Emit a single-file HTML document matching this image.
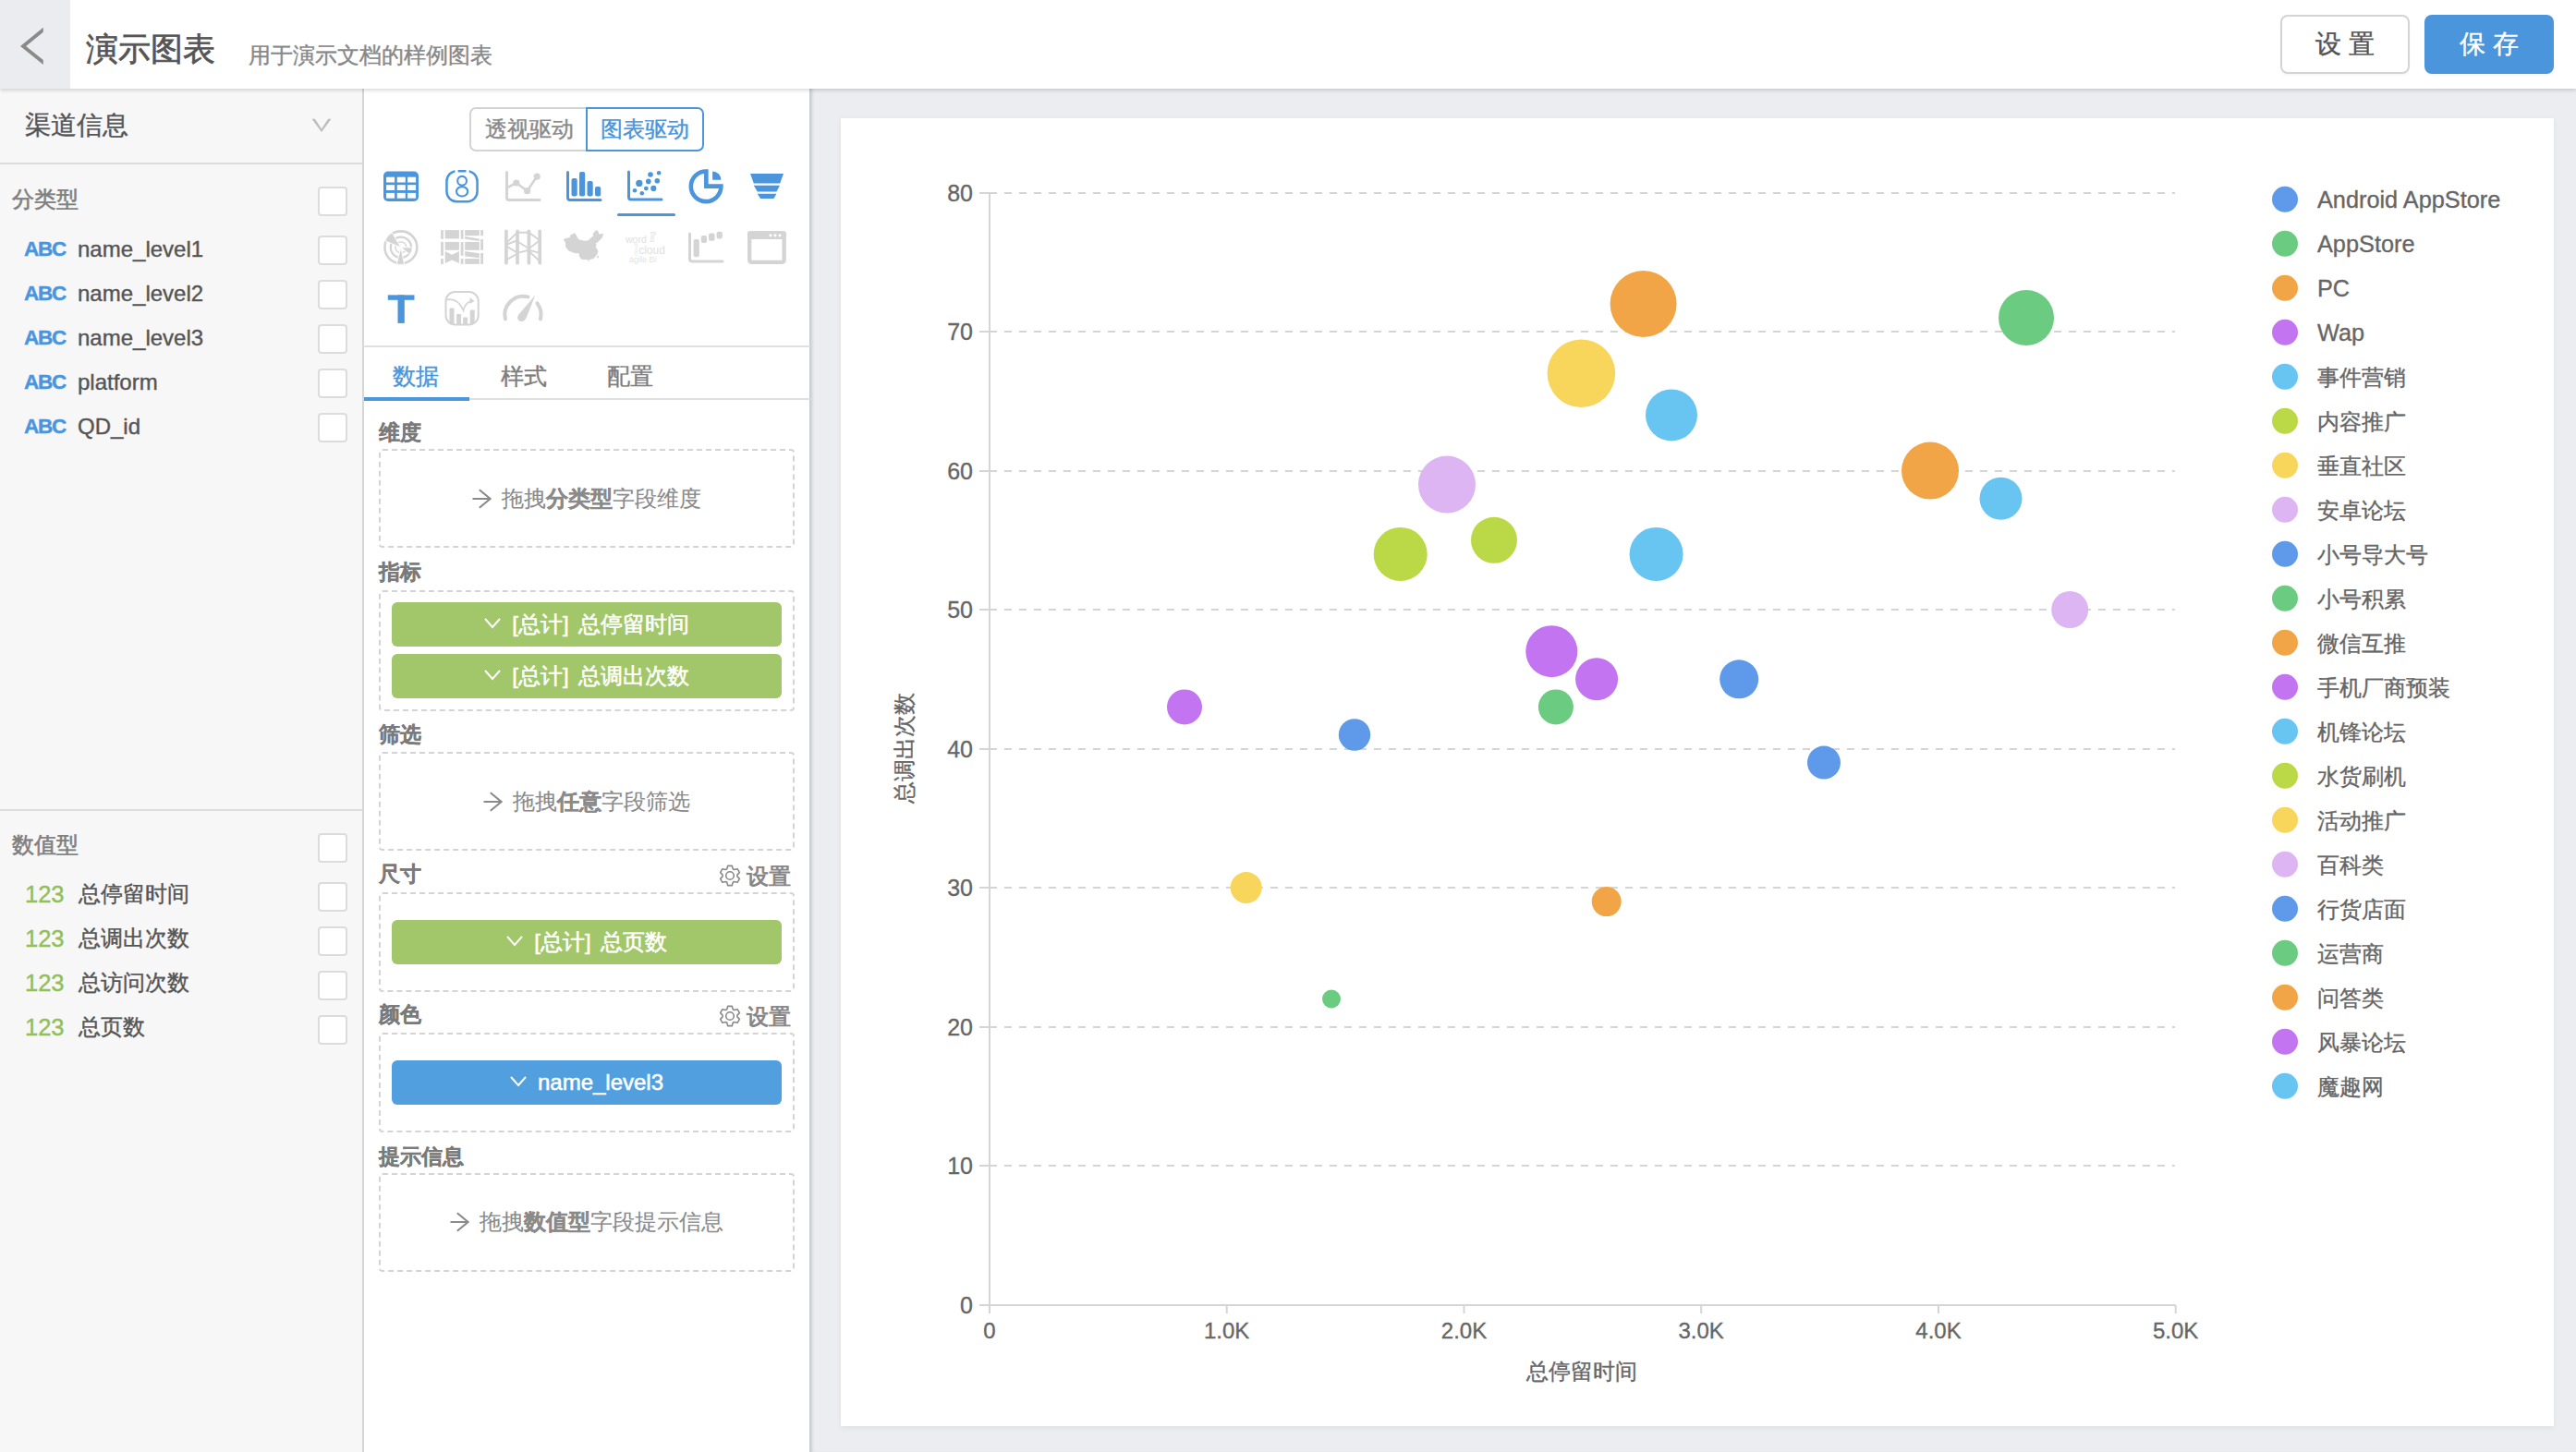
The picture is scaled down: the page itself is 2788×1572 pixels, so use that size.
<!DOCTYPE html>
<html><head><meta charset="utf-8">
<style>
*{margin:0;padding:0;box-sizing:border-box}
html,body{width:2788px;height:1572px;overflow:hidden}
body{background:#ebedf0;font-family:"Liberation Sans", sans-serif;position:relative;color:#555}
.a{position:absolute}
.t{white-space:nowrap;line-height:1.2;-webkit-text-stroke-width:0.4px}
svg text{font-family:"Liberation Sans", sans-serif}
.ch text{stroke:#666;stroke-width:0.35px}
.chk{width:31.5px;height:31.8px;border:2px solid #dcdcdc;border-radius:4px;background:#fff}
.pill{left:424px;width:422px;height:48px;border-radius:6px;color:#fff;font-size:24px;text-align:center;line-height:48px;word-spacing:3.5px;-webkit-text-stroke-width:0.55px}
b{font-weight:bold;-webkit-text-stroke-width:0.3px}
</style></head><body>
<div class="a" style="left:876px;top:96px;width:1912px;height:1476px;background:#ebedf0;box-shadow:inset 5px 0 4px -3px rgba(0,0,0,0.2)"></div>
<div class="a" style="left:910px;top:128px;width:1854px;height:1416px;background:#fff;box-shadow:0 2px 6px rgba(0,0,0,0.06)"></div>
<svg class="ch" width="2788" height="1572" style="position:absolute;left:0;top:0">
<line x1="1071" y1="1262" x2="2354" y2="1262" stroke="#d5d5d5" stroke-width="2" stroke-dasharray="8 8"/>
<line x1="1071" y1="1112" x2="2354" y2="1112" stroke="#d5d5d5" stroke-width="2" stroke-dasharray="8 8"/>
<line x1="1071" y1="961" x2="2354" y2="961" stroke="#d5d5d5" stroke-width="2" stroke-dasharray="8 8"/>
<line x1="1071" y1="811" x2="2354" y2="811" stroke="#d5d5d5" stroke-width="2" stroke-dasharray="8 8"/>
<line x1="1071" y1="660" x2="2354" y2="660" stroke="#d5d5d5" stroke-width="2" stroke-dasharray="8 8"/>
<line x1="1071" y1="510" x2="2354" y2="510" stroke="#d5d5d5" stroke-width="2" stroke-dasharray="8 8"/>
<line x1="1071" y1="359" x2="2354" y2="359" stroke="#d5d5d5" stroke-width="2" stroke-dasharray="8 8"/>
<line x1="1071" y1="209" x2="2354" y2="209" stroke="#d5d5d5" stroke-width="2" stroke-dasharray="8 8"/>
<line x1="1060" y1="1413" x2="1071" y2="1413" stroke="#d5d5d5" stroke-width="2"/>
<text x="1053" y="1421.5" text-anchor="end" font-size="25" fill="#666">0</text>
<line x1="1060" y1="1262" x2="1071" y2="1262" stroke="#d5d5d5" stroke-width="2"/>
<text x="1053" y="1270.5" text-anchor="end" font-size="25" fill="#666">10</text>
<line x1="1060" y1="1112" x2="1071" y2="1112" stroke="#d5d5d5" stroke-width="2"/>
<text x="1053" y="1120.5" text-anchor="end" font-size="25" fill="#666">20</text>
<line x1="1060" y1="961" x2="1071" y2="961" stroke="#d5d5d5" stroke-width="2"/>
<text x="1053" y="969.5" text-anchor="end" font-size="25" fill="#666">30</text>
<line x1="1060" y1="811" x2="1071" y2="811" stroke="#d5d5d5" stroke-width="2"/>
<text x="1053" y="819.5" text-anchor="end" font-size="25" fill="#666">40</text>
<line x1="1060" y1="660" x2="1071" y2="660" stroke="#d5d5d5" stroke-width="2"/>
<text x="1053" y="668.5" text-anchor="end" font-size="25" fill="#666">50</text>
<line x1="1060" y1="510" x2="1071" y2="510" stroke="#d5d5d5" stroke-width="2"/>
<text x="1053" y="518.5" text-anchor="end" font-size="25" fill="#666">60</text>
<line x1="1060" y1="359" x2="1071" y2="359" stroke="#d5d5d5" stroke-width="2"/>
<text x="1053" y="367.5" text-anchor="end" font-size="25" fill="#666">70</text>
<line x1="1060" y1="209" x2="1071" y2="209" stroke="#d5d5d5" stroke-width="2"/>
<text x="1053" y="217.5" text-anchor="end" font-size="25" fill="#666">80</text>
<line x1="1071" y1="208" x2="1071" y2="1422" stroke="#d5d5d5" stroke-width="2"/>
<line x1="1060" y1="1413" x2="2354.7" y2="1413" stroke="#d5d5d5" stroke-width="2"/>
<line x1="1071.0" y1="1413" x2="1071.0" y2="1422" stroke="#d5d5d5" stroke-width="2"/>
<text x="1071.0" y="1449" text-anchor="middle" font-size="24" fill="#666">0</text>
<line x1="1327.7" y1="1413" x2="1327.7" y2="1422" stroke="#d5d5d5" stroke-width="2"/>
<text x="1327.7" y="1449" text-anchor="middle" font-size="24" fill="#666">1.0K</text>
<line x1="1584.5" y1="1413" x2="1584.5" y2="1422" stroke="#d5d5d5" stroke-width="2"/>
<text x="1584.5" y="1449" text-anchor="middle" font-size="24" fill="#666">2.0K</text>
<line x1="1841.2" y1="1413" x2="1841.2" y2="1422" stroke="#d5d5d5" stroke-width="2"/>
<text x="1841.2" y="1449" text-anchor="middle" font-size="24" fill="#666">3.0K</text>
<line x1="2098.0" y1="1413" x2="2098.0" y2="1422" stroke="#d5d5d5" stroke-width="2"/>
<text x="2098.0" y="1449" text-anchor="middle" font-size="24" fill="#666">4.0K</text>
<line x1="2354.7" y1="1413" x2="2354.7" y2="1422" stroke="#d5d5d5" stroke-width="2"/>
<text x="2354.7" y="1449" text-anchor="middle" font-size="24" fill="#666">5.0K</text>
<text x="1712" y="1492.5" text-anchor="middle" font-size="24" fill="#666">总停留时间</text>
<text transform="translate(987,810) rotate(-90)" text-anchor="middle" font-size="24" fill="#666">总调出次数</text>
<circle cx="1778.6" cy="329.0" r="36" fill="#f2a546"/>
<circle cx="2193" cy="344.0" r="30" fill="#6bcb81"/>
<circle cx="1711.4" cy="404.2" r="36.8" fill="#f8d65c"/>
<circle cx="1809" cy="449.4" r="28" fill="#68c5f1"/>
<circle cx="1566" cy="524.6" r="31" fill="#dcb5f2"/>
<circle cx="2089" cy="509.6" r="31" fill="#f2a546"/>
<circle cx="2165.5" cy="539.7" r="23" fill="#68c5f1"/>
<circle cx="1515.7" cy="599.9" r="29" fill="#bbd946"/>
<circle cx="1617" cy="584.8" r="25" fill="#bbd946"/>
<circle cx="1792.6" cy="599.9" r="29" fill="#68c5f1"/>
<circle cx="2240.2" cy="660.1" r="20" fill="#dcb5f2"/>
<circle cx="1679.3" cy="705.2" r="28" fill="#c274f1"/>
<circle cx="1728.1" cy="735.3" r="23" fill="#c274f1"/>
<circle cx="1683.9" cy="765.4" r="19" fill="#6bcb81"/>
<circle cx="1882.2" cy="735.3" r="21" fill="#5e9ae9"/>
<circle cx="1282" cy="765.4" r="19" fill="#c274f1"/>
<circle cx="1466" cy="795.5" r="17.2" fill="#5e9ae9"/>
<circle cx="1974" cy="825.6" r="18" fill="#5e9ae9"/>
<circle cx="1348.7" cy="961.1" r="17" fill="#f8d65c"/>
<circle cx="1738.7" cy="976.1" r="16" fill="#f2a546"/>
<circle cx="1441" cy="1081.5" r="10" fill="#6bcb81"/>
<circle cx="2473" cy="215.8" r="14" fill="#5e9ae9"/>
<text x="2508" y="224.8" font-size="25.3" fill="#666">Android AppStore</text>
<circle cx="2473" cy="263.8" r="14" fill="#6bcb81"/>
<text x="2508" y="272.8" font-size="25.3" fill="#666">AppStore</text>
<circle cx="2473" cy="311.8" r="14" fill="#f2a546"/>
<text x="2508" y="320.8" font-size="25.3" fill="#666">PC</text>
<circle cx="2473" cy="359.8" r="14" fill="#c274f1"/>
<text x="2508" y="368.8" font-size="25.3" fill="#666">Wap</text>
<circle cx="2473" cy="407.8" r="14" fill="#68c5f1"/>
<text x="2508" y="416.8" font-size="24" fill="#666">事件营销</text>
<circle cx="2473" cy="455.8" r="14" fill="#bbd946"/>
<text x="2508" y="464.8" font-size="24" fill="#666">内容推广</text>
<circle cx="2473" cy="503.8" r="14" fill="#f8d65c"/>
<text x="2508" y="512.8" font-size="24" fill="#666">垂直社区</text>
<circle cx="2473" cy="551.8" r="14" fill="#dcb5f2"/>
<text x="2508" y="560.8" font-size="24" fill="#666">安卓论坛</text>
<circle cx="2473" cy="599.8" r="14" fill="#5e9ae9"/>
<text x="2508" y="608.8" font-size="24" fill="#666">小号导大号</text>
<circle cx="2473" cy="647.8" r="14" fill="#6bcb81"/>
<text x="2508" y="656.8" font-size="24" fill="#666">小号积累</text>
<circle cx="2473" cy="695.8" r="14" fill="#f2a546"/>
<text x="2508" y="704.8" font-size="24" fill="#666">微信互推</text>
<circle cx="2473" cy="743.8" r="14" fill="#c274f1"/>
<text x="2508" y="752.8" font-size="24" fill="#666">手机厂商预装</text>
<circle cx="2473" cy="791.8" r="14" fill="#68c5f1"/>
<text x="2508" y="800.8" font-size="24" fill="#666">机锋论坛</text>
<circle cx="2473" cy="839.8" r="14" fill="#bbd946"/>
<text x="2508" y="848.8" font-size="24" fill="#666">水货刷机</text>
<circle cx="2473" cy="887.8" r="14" fill="#f8d65c"/>
<text x="2508" y="896.8" font-size="24" fill="#666">活动推广</text>
<circle cx="2473" cy="935.8" r="14" fill="#dcb5f2"/>
<text x="2508" y="944.8" font-size="24" fill="#666">百科类</text>
<circle cx="2473" cy="983.8" r="14" fill="#5e9ae9"/>
<text x="2508" y="992.8" font-size="24" fill="#666">行货店面</text>
<circle cx="2473" cy="1031.8" r="14" fill="#6bcb81"/>
<text x="2508" y="1040.8" font-size="24" fill="#666">运营商</text>
<circle cx="2473" cy="1079.8" r="14" fill="#f2a546"/>
<text x="2508" y="1088.8" font-size="24" fill="#666">问答类</text>
<circle cx="2473" cy="1127.8" r="14" fill="#c274f1"/>
<text x="2508" y="1136.8" font-size="24" fill="#666">风暴论坛</text>
<circle cx="2473" cy="1175.8" r="14" fill="#68c5f1"/>
<text x="2508" y="1184.8" font-size="24" fill="#666">魔趣网</text>
</svg>
<div class="a" style="left:0;top:96px;width:393px;height:1476px;background:#f7f7f7"></div>
<div class="a t" style="left:27px;top:118.5px;font-size:27.5px;color:#555">渠道信息</div>
<svg class="a" style="left:330px;top:120px" width="40" height="30"><polygon points="7.5,8.8 10.9,8.8 18,19.4 25.1,8.8 28.5,8.8 18,23" fill="#bdbdbd"/></svg>
<div class="a" style="left:0;top:176px;width:392px;height:2px;background:#dcdcdc"></div>
<div class="a t" style="left:13px;top:202px;font-size:23.5px;color:#808080;-webkit-text-stroke-width:0.6px">分类型</div>
<div class="a chk" style="left:344px;top:202px"></div>
<div class="a t" style="left:26px;top:255.5px;font-size:22.5px;letter-spacing:-1.2px;font-weight:bold;color:#4a95dc">ABC</div>
<div class="a t" style="left:84px;top:256px;font-size:24px;color:#555">name_level1</div>
<div class="a chk" style="left:344px;top:255px"></div>
<div class="a t" style="left:26px;top:303.5px;font-size:22.5px;letter-spacing:-1.2px;font-weight:bold;color:#4a95dc">ABC</div>
<div class="a t" style="left:84px;top:304px;font-size:24px;color:#555">name_level2</div>
<div class="a chk" style="left:344px;top:303px"></div>
<div class="a t" style="left:26px;top:351.5px;font-size:22.5px;letter-spacing:-1.2px;font-weight:bold;color:#4a95dc">ABC</div>
<div class="a t" style="left:84px;top:352px;font-size:24px;color:#555">name_level3</div>
<div class="a chk" style="left:344px;top:351px"></div>
<div class="a t" style="left:26px;top:399.5px;font-size:22.5px;letter-spacing:-1.2px;font-weight:bold;color:#4a95dc">ABC</div>
<div class="a t" style="left:84px;top:400px;font-size:24px;color:#555">platform</div>
<div class="a chk" style="left:344px;top:399px"></div>
<div class="a t" style="left:26px;top:447.5px;font-size:22.5px;letter-spacing:-1.2px;font-weight:bold;color:#4a95dc">ABC</div>
<div class="a t" style="left:84px;top:448px;font-size:24px;color:#555">QD_id</div>
<div class="a chk" style="left:344px;top:447px"></div>
<div class="a" style="left:0;top:876px;width:392px;height:2px;background:#dcdcdc"></div>
<div class="a t" style="left:13px;top:901px;font-size:23.5px;color:#808080;-webkit-text-stroke-width:0.6px">数值型</div>
<div class="a chk" style="left:344px;top:902px"></div>
<div class="a t" style="left:27px;top:953px;font-size:25.5px;color:#92bf58">123</div>
<div class="a t" style="left:85px;top:954px;font-size:24px;color:#555">总停留时间</div>
<div class="a chk" style="left:344px;top:955px"></div>
<div class="a t" style="left:27px;top:1001px;font-size:25.5px;color:#92bf58">123</div>
<div class="a t" style="left:85px;top:1002px;font-size:24px;color:#555">总调出次数</div>
<div class="a chk" style="left:344px;top:1003px"></div>
<div class="a t" style="left:27px;top:1049px;font-size:25.5px;color:#92bf58">123</div>
<div class="a t" style="left:85px;top:1050px;font-size:24px;color:#555">总访问次数</div>
<div class="a chk" style="left:344px;top:1051px"></div>
<div class="a t" style="left:27px;top:1097px;font-size:25.5px;color:#92bf58">123</div>
<div class="a t" style="left:85px;top:1098px;font-size:24px;color:#555">总页数</div>
<div class="a chk" style="left:344px;top:1099px"></div>
<div class="a" style="left:392px;top:96px;width:484px;height:1476px;background:#fff;border-left:2px solid #d6d6d6"></div>
<div class="a t" style="left:508px;top:116px;width:128px;height:48px;border:2px solid #d4d4d4;border-right:none;border-radius:7px 0 0 7px;font-size:24px;color:#8a8a8a;text-align:center;line-height:44px">透视驱动</div>
<div class="a t" style="left:634px;top:116px;width:128px;height:48px;border:2px solid #4a95dc;border-radius:0 7px 7px 0;font-size:24px;color:#4a95dc;text-align:center;line-height:44px">图表驱动</div>
<svg class="a" style="left:393px;top:170px" width="484" height="200">
<g transform="translate(22,15.599999999999994)"><rect x="0" y="0" width="38" height="32.4" rx="5" fill="#4a95dc"/><rect x="3.1" y="6.1" width="9" height="5.8" fill="#fff"/><rect x="3.1" y="14.6" width="9" height="5.8" fill="#fff"/><rect x="3.1" y="23.3" width="9" height="5.8" fill="#fff"/><rect x="14.8" y="6.1" width="9" height="5.8" fill="#fff"/><rect x="14.8" y="14.6" width="9" height="5.8" fill="#fff"/><rect x="14.8" y="23.3" width="9" height="5.8" fill="#fff"/><rect x="26.1" y="6.1" width="9" height="5.8" fill="#fff"/><rect x="26.1" y="14.6" width="9" height="5.8" fill="#fff"/><rect x="26.1" y="23.3" width="9" height="5.8" fill="#fff"/></g>
<g transform="translate(89.19999999999999,14)"><rect x="1.25" y="1.25" width="33.1" height="33" rx="11" fill="none" stroke="#4a95dc" stroke-width="2.5"/><rect x="10.2" y="-0.5" width="3.2" height="3.5" fill="#fff"/><rect x="22.3" y="-0.5" width="3.2" height="3.5" fill="#fff"/><ellipse cx="17.9" cy="11.8" rx="4.9" ry="4.9" fill="none" stroke="#4a95dc" stroke-width="2.1"/><ellipse cx="17.9" cy="23.3" rx="6.1" ry="5.2" fill="none" stroke="#4a95dc" stroke-width="2.1"/></g>
<g transform="translate(154,15.599999999999994)"><path d="M1.5 1V28.5Q1.5 31 4 31H37" fill="none" stroke="#d4d4d4" stroke-width="3" stroke-linecap="round"/><polyline points="2.5,17.3 11.8,12.4 23.6,21.1 34.2,5.5" fill="none" stroke="#d4d4d4" stroke-width="2.6"/><circle cx="11.8" cy="12.4" r="3.6" fill="#d4d4d4"/><circle cx="23.6" cy="21.1" r="3.6" fill="#d4d4d4"/><circle cx="34.2" cy="5.5" r="3.6" fill="#d4d4d4"/></g>
<g transform="translate(220,15.599999999999994)"><path d="M1.5 1V28.5Q1.5 31 4 31H37" fill="none" stroke="#4a95dc" stroke-width="3" stroke-linecap="round"/><rect x="5.5" y="7.5" width="6.2" height="19.5" rx="2" fill="#4a95dc"/><rect x="14" y="0.5" width="6.2" height="26.5" rx="2" fill="#4a95dc"/><rect x="22.5" y="10.5" width="6.2" height="16.5" rx="2" fill="#4a95dc"/><rect x="31" y="16.5" width="6.2" height="10.5" rx="2" fill="#4a95dc"/></g>
<g transform="translate(286,15)"><path d="M1.5 1V28.5Q1.5 31 4 31H37" fill="none" stroke="#4a95dc" stroke-width="3" stroke-linecap="round"/><circle cx="12.8" cy="13.4" r="3.6" fill="#4a95dc"/><circle cx="25" cy="4" r="2.8" fill="#4a95dc"/><circle cx="34.1" cy="2.3" r="2.3" fill="#4a95dc"/><circle cx="22.8" cy="11.4" r="2.8" fill="#4a95dc"/><circle cx="32.3" cy="10.7" r="2.8" fill="#4a95dc"/><circle cx="8" cy="21.2" r="2.3" fill="#4a95dc"/><circle cx="20.3" cy="19.1" r="2.4" fill="#4a95dc"/><circle cx="28.3" cy="18.9" r="3.1" fill="#4a95dc"/><circle cx="15.8" cy="24.2" r="2.3" fill="#4a95dc"/></g>
<g transform="translate(352.5,13)"><path d="M18.85 2.5A16.3 16.3 0 1 0 34.9 18.65H18.85Z" fill="none" stroke="#4a95dc" stroke-width="4.6" stroke-linejoin="miter"/><path d="M25.6 11.8V2.4A9.4 9.4 0 0 1 35 11.8Z" fill="#4a95dc"/></g>
<g transform="translate(419,18)"><polygon points="0,0 36,0 32.2,10.6 3.8,10.6" fill="#4a95dc"/><polygon points="3.8,12.7 32,12.7 28.4,19.6 7.7,19.6" fill="#4a95dc"/><polygon points="7.7,21.8 28.4,21.8 25.4,27 11.1,27" fill="#4a95dc"/></g>
<g transform="translate(22,79)"><circle cx="18.9" cy="18.8" r="17.45" fill="none" stroke="#d4d4d4" stroke-width="2.6"/><circle cx="18.9" cy="18.8" r="11.2" fill="none" stroke="#d4d4d4" stroke-width="2.2"/><circle cx="18.9" cy="18.8" r="6" fill="none" stroke="#d4d4d4" stroke-width="1.3"/><path d="M18.9 18.8L1.6 11.8A18.7 18.7 0 0 1 9.2 2.8Z" fill="#d4d4d4" stroke="#fff" stroke-width="0.9"/><path d="M18.9 18.8H31.3A12.4 12.4 0 0 1 28.6 26.6Z" fill="#d4d4d4" stroke="#fff" stroke-width="0.9"/><path d="M18.9 18.8L14.2 37A18.7 18.7 0 0 0 22.6 37.2Z" fill="#d4d4d4" stroke="#fff" stroke-width="0.9"/></g>
<g transform="translate(84,79)"><rect x="0.1" y="0.1" width="2.8" height="9.6" fill="#d4d4d4"/><rect x="0.1" y="12.9" width="2.8" height="14.9" fill="#d4d4d4"/><rect x="0.1" y="31.1" width="2.8" height="5.8" fill="#d4d4d4"/><rect x="21.7" y="0.1" width="2.8" height="9.6" fill="#d4d4d4"/><rect x="21.7" y="12.9" width="2.8" height="14.9" fill="#d4d4d4"/><rect x="21.7" y="31.1" width="2.8" height="5.8" fill="#d4d4d4"/><rect x="43.2" y="0.1" width="2.8" height="6.1" fill="#d4d4d4"/><rect x="43.2" y="9.9" width="2.8" height="11.9" fill="#d4d4d4"/><rect x="43.2" y="25" width="2.8" height="11.9" fill="#d4d4d4"/><rect x="4.7" y="0.1" width="15.2" height="9.3" fill="#d4d4d4"/><rect x="4.7" y="12.9" width="15.2" height="8.9" fill="#d4d4d4"/><polygon points="4.7,23 12.3,26.7 19.9,23 19.9,36 12.3,32.6 4.7,36" fill="#d4d4d4"/><rect x="26.2" y="0.1" width="15.6" height="6.1" fill="#d4d4d4"/><polygon points="26.2,7.1 41.8,9.6 41.8,12 26.2,9.7" fill="#d4d4d4"/><rect x="26.2" y="12.9" width="15.6" height="8.9" fill="#d4d4d4"/><polygon points="26.2,23 41.8,25.3 41.8,30.3 26.2,28.4" fill="#d4d4d4"/><rect x="26.2" y="31.1" width="15.6" height="5.8" fill="#d4d4d4"/></g>
<g transform="translate(153,78)"><line x1="1.9" y1="2.3" x2="1.9" y2="36.7" stroke="#d4d4d4" stroke-width="3.7" stroke-linecap="round"/><line x1="14" y1="2.3" x2="14" y2="36.7" stroke="#d4d4d4" stroke-width="3.7" stroke-linecap="round"/><line x1="26.4" y1="2.3" x2="26.4" y2="36.7" stroke="#d4d4d4" stroke-width="3.7" stroke-linecap="round"/><line x1="38.2" y1="2.3" x2="38.2" y2="36.7" stroke="#d4d4d4" stroke-width="3.7" stroke-linecap="round"/><path d="M1.9 15.1L14 3.7H26.4L38.2 12.3M1.9 17L14 12.1M14 13.2L26.4 21.2L38.2 12.3M1.9 18.4L14 25.8L26.4 22.8L38.2 25.8M1.9 33.3L14 26.7M26.4 23.9L38.2 34.7" fill="none" stroke="#d4d4d4" stroke-width="1.9"/></g>
<g transform="translate(217,78.69999999999999)"><path d="M0.7 9.8L6.8 8.4L7.2 6.1L9.1 4.7L12.1 3.5L13.7 6.1L15.1 8.8L16.9 10.7L22.6 12.1L26.7 11.6L30 8.4L32.4 6.5L31.4 5.4L33.3 2.3L35.2 0.2L37.5 1.9L38.4 4.7L43.3 4.2L41.7 8.8L37 13.5L34.6 14.9L35.6 16.3L34.6 18.6L36.5 21.4L37.5 23.8L35.6 27.5L32.4 31.2L27.7 32.6L26.8 34.5L25.9 32.6L19.3 32.1L17 28.9L16.5 25.6L12.3 25.6L9.1 24.2L5.4 22.8L2.1 18.6L1.9 13.9L0 11.2Z" fill="#d4d4d4"/><ellipse cx="37" cy="29.3" rx="0.9" ry="1.6" fill="#d4d4d4"/></g>
<g transform="translate(284,80)"><text x="0" y="12.8" font-size="10.5" fill="#e0e0e0">word</text><text x="14.2" y="24.9" font-size="12" fill="#e0e0e0">cloud</text><text x="3.9" y="34.2" font-size="9" fill="#e3e3e3">agile Bi</text><text transform="translate(31,11.9) rotate(-90)" font-size="8" fill="#e0e0e0">tag</text><text transform="translate(12.5,26.7) rotate(-90)" font-size="5.5" fill="#e6e6e6">cloud</text></g>
<g transform="translate(352,82)"><path d="M1.5 1V28Q1.5 31 4.5 31H37" fill="none" stroke="#d4d4d4" stroke-width="3" stroke-linecap="round"/><rect x="5.6" y="7" width="6.2" height="19.3" rx="2" fill="#d4d4d4"/><rect x="13.8" y="3" width="6.2" height="8" rx="2" fill="#d4d4d4"/><rect x="22" y="0.5" width="6.6" height="8.2" rx="2" fill="#d4d4d4"/><rect x="30.6" y="-1.2" width="6.3" height="7.7" rx="2" fill="#d4d4d4"/></g>
<g transform="translate(416,80.30000000000001)"><rect x="2.2" y="2.2" width="37.4" height="31.4" rx="2" fill="none" stroke="#d4d4d4" stroke-width="4.3"/><rect x="0" y="0" width="41.8" height="8.6" rx="2" fill="#d4d4d4"/><circle cx="25" cy="4.5" r="1.6" fill="#fff"/><circle cx="30" cy="4.5" r="1.6" fill="#fff"/><circle cx="35" cy="4.5" r="1.6" fill="#fff"/></g>
<g transform="translate(26.80000000000001,149.39999999999998)"><rect x="0" y="0" width="28.7" height="5.4" fill="#4a95dc"/><rect x="10.7" y="0" width="7.3" height="30.5" fill="#4a95dc"/></g>
<g transform="translate(88.5,145)"><rect x="1" y="1" width="35.2" height="35.4" rx="10" fill="none" stroke="#d4d4d4" stroke-width="2"/><rect x="5" y="18.5" width="5" height="17.5" rx="1" fill="#d4d4d4"/><rect x="12.6" y="25" width="5" height="11" rx="1" fill="#d4d4d4"/><rect x="19.6" y="28.5" width="5" height="7.5" rx="1" fill="#d4d4d4"/><rect x="27.2" y="20.5" width="5" height="15.5" rx="1" fill="#d4d4d4"/><path d="M2 9.5Q14 7 20 21Q22 13 28 11" fill="none" stroke="#d4d4d4" stroke-width="1.8"/><polygon points="27,7 32,11 27,14" fill="#d4d4d4"/></g>
<g transform="translate(151.39999999999998,149.39999999999998)"><path d="M2.5 26A20 20 0 0 1 27 2" fill="none" stroke="#d4d4d4" stroke-width="4" stroke-linecap="round"/><path d="M37 9A20 20 0 0 1 40.5 26" fill="none" stroke="#d4d4d4" stroke-width="4" stroke-linecap="round"/><path d="M35 0L25 25Q22 30 18 28Q14 26 17 21Z" fill="#d4d4d4"/></g>
</svg>
<div class="a" style="left:668px;top:231px;width:63px;height:3px;border-radius:2px;background:#4a95dc"></div>
<div class="a" style="left:393px;top:374px;width:484px;height:2px;background:#e0e0e0"></div>
<div class="a t" style="left:425px;top:392px;font-size:25px;color:#4a95dc">数据</div>
<div class="a t" style="left:542px;top:392px;font-size:25px;color:#7d7d7d">样式</div>
<div class="a t" style="left:657px;top:392px;font-size:25px;color:#7d7d7d">配置</div>
<div class="a" style="left:393px;top:431px;width:484px;height:2px;background:#e0e0e0"></div>
<div class="a" style="left:394px;top:430px;width:114px;height:4px;background:#4a95dc"></div>
<div class="a t" style="left:410px;top:454.5px;font-size:22.5px;font-weight:bold;color:#7a7a7a;-webkit-text-stroke-width:0.25px">维度</div>
<div class="a" style="left:410px;top:486px;width:450px;height:107px;border:2px dashed #d4d4d4;border-radius:4px"></div>
<div class="a t" style="left:410px;width:450px;top:525.5px;text-align:center;font-size:24px;color:#8a8a8a;-webkit-text-stroke-width:0.1px"><svg width="22" height="20" style="vertical-align:-2px;margin-right:10px;overflow:visible"><path d="M0.5 10H20M7.8 0.3L19.6 10L7.8 19.7" fill="none" stroke="#8a8a8a" stroke-width="2.1"/></svg>拖拽<b>分类型</b>字段维度</div>
<div class="a t" style="left:410px;top:605.5px;font-size:22.5px;font-weight:bold;color:#7a7a7a;-webkit-text-stroke-width:0.25px">指标</div>
<div class="a" style="left:410px;top:639px;width:450px;height:131px;border:2px dashed #d4d4d4;border-radius:4px"></div>
<div class="a t pill" style="top:652px;background:#a2c76b"><svg width="18" height="12" style="vertical-align:3px;margin-right:12px"><polyline points="1,1 9,10 17,1" fill="none" stroke="#fff" stroke-width="2"/></svg>[总计] 总停留时间</div>
<div class="a t pill" style="top:708px;background:#a2c76b"><svg width="18" height="12" style="vertical-align:3px;margin-right:12px"><polyline points="1,1 9,10 17,1" fill="none" stroke="#fff" stroke-width="2"/></svg>[总计] 总调出次数</div>
<div class="a t" style="left:410px;top:781.5px;font-size:22.5px;font-weight:bold;color:#7a7a7a;-webkit-text-stroke-width:0.25px">筛选</div>
<div class="a" style="left:410px;top:814px;width:450px;height:107px;border:2px dashed #d4d4d4;border-radius:4px"></div>
<div class="a t" style="left:410px;width:450px;top:853.5px;text-align:center;font-size:24px;color:#8a8a8a;-webkit-text-stroke-width:0.1px"><svg width="22" height="20" style="vertical-align:-2px;margin-right:10px;overflow:visible"><path d="M0.5 10H20M7.8 0.3L19.6 10L7.8 19.7" fill="none" stroke="#8a8a8a" stroke-width="2.1"/></svg>拖拽<b>任意</b>字段筛选</div>
<div class="a t" style="left:410px;top:932.5px;font-size:22.5px;font-weight:bold;color:#7a7a7a;-webkit-text-stroke-width:0.25px">尺寸</div><div class="a" style="left:778px;top:936px;width:24px;height:24px"><svg width="24" height="24" viewBox="0 0 24 24"><path d="M8.75 4.69L9.73 1.34L14.27 1.34L15.25 4.69L16.70 5.53L20.10 4.71L22.37 8.63L19.96 11.16L19.96 12.84L22.37 15.37L20.10 19.29L16.70 18.47L15.25 19.31L14.27 22.66L9.73 22.66L8.75 19.31L7.30 18.47L3.90 19.29L1.63 15.37L4.04 12.84L4.04 11.16L1.63 8.63L3.90 4.71L7.30 5.53Z" fill="none" stroke="#8a8a8a" stroke-width="1.6" stroke-linejoin="round"/><circle cx="12" cy="12" r="4.3" fill="none" stroke="#8a8a8a" stroke-width="1.6"/></svg></div><div class="a t" style="left:808px;top:934.5px;font-size:23.5px;color:#858585;-webkit-text-stroke-width:0.8px">设置</div>
<div class="a" style="left:410px;top:966px;width:450px;height:108px;border:2px dashed #d4d4d4;border-radius:4px"></div>
<div class="a t pill" style="top:996px;background:#a2c76b"><svg width="18" height="12" style="vertical-align:3px;margin-right:12px"><polyline points="1,1 9,10 17,1" fill="none" stroke="#fff" stroke-width="2"/></svg>[总计] 总页数</div>
<div class="a t" style="left:410px;top:1084.5px;font-size:22.5px;font-weight:bold;color:#7a7a7a;-webkit-text-stroke-width:0.25px">颜色</div><div class="a" style="left:778px;top:1088px;width:24px;height:24px"><svg width="24" height="24" viewBox="0 0 24 24"><path d="M8.75 4.69L9.73 1.34L14.27 1.34L15.25 4.69L16.70 5.53L20.10 4.71L22.37 8.63L19.96 11.16L19.96 12.84L22.37 15.37L20.10 19.29L16.70 18.47L15.25 19.31L14.27 22.66L9.73 22.66L8.75 19.31L7.30 18.47L3.90 19.29L1.63 15.37L4.04 12.84L4.04 11.16L1.63 8.63L3.90 4.71L7.30 5.53Z" fill="none" stroke="#8a8a8a" stroke-width="1.6" stroke-linejoin="round"/><circle cx="12" cy="12" r="4.3" fill="none" stroke="#8a8a8a" stroke-width="1.6"/></svg></div><div class="a t" style="left:808px;top:1086.5px;font-size:23.5px;color:#858585;-webkit-text-stroke-width:0.8px">设置</div>
<div class="a" style="left:410px;top:1118px;width:450px;height:108px;border:2px dashed #d4d4d4;border-radius:4px"></div>
<div class="a t pill" style="top:1148px;background:#519fdf"><svg width="18" height="12" style="vertical-align:3px;margin-right:12px"><polyline points="1,1 9,10 17,1" fill="none" stroke="#fff" stroke-width="2"/></svg>name_level3</div>
<div class="a t" style="left:410px;top:1238.5px;font-size:22.5px;font-weight:bold;color:#7a7a7a;-webkit-text-stroke-width:0.25px">提示信息</div>
<div class="a" style="left:410px;top:1270px;width:450px;height:107px;border:2px dashed #d4d4d4;border-radius:4px"></div>
<div class="a t" style="left:410px;width:450px;top:1308.5px;text-align:center;font-size:24px;color:#8a8a8a;-webkit-text-stroke-width:0.1px"><svg width="22" height="20" style="vertical-align:-2px;margin-right:10px;overflow:visible"><path d="M0.5 10H20M7.8 0.3L19.6 10L7.8 19.7" fill="none" stroke="#8a8a8a" stroke-width="2.1"/></svg>拖拽<b>数值型</b>字段提示信息</div>
<div class="a" style="left:0;top:0;width:2788px;height:96px;background:#fff;box-shadow:0 2px 4px rgba(0,0,0,0.15)"></div>
<div class="a" style="left:0;top:0;width:76px;height:96px;background:#ebecf0"></div>
<svg class="a" style="left:0;top:10px" width="76" height="80"><polygon points="46.8,19.8 46.8,24.8 28.1,40 46.8,55.1 46.8,60.1 22,40" fill="#8a8a8a"/></svg>
<div class="a t" style="left:93px;top:31.5px;font-size:35px;-webkit-text-stroke-width:0.7px;color:#555">演示图表</div>
<div class="a t" style="left:269px;top:46px;font-size:24px;color:#888">用于演示文档的样例图表</div>
<div class="a t" style="left:2468px;top:16px;width:139.5px;height:63.5px;border:2px solid #d4d4d4;border-radius:8px;background:#fff;font-size:28px;color:#555;text-align:center;line-height:59.5px;box-shadow:0 2px 2px rgba(0,0,0,0.03)">设 置</div>
<div class="a t" style="left:2624px;top:16px;width:140px;height:64px;border-radius:8px;background:#4a95dc;font-size:28px;color:#fff;text-align:center;line-height:64px;box-shadow:0 2px 2px rgba(0,0,0,0.04)">保 存</div>
</body></html>
